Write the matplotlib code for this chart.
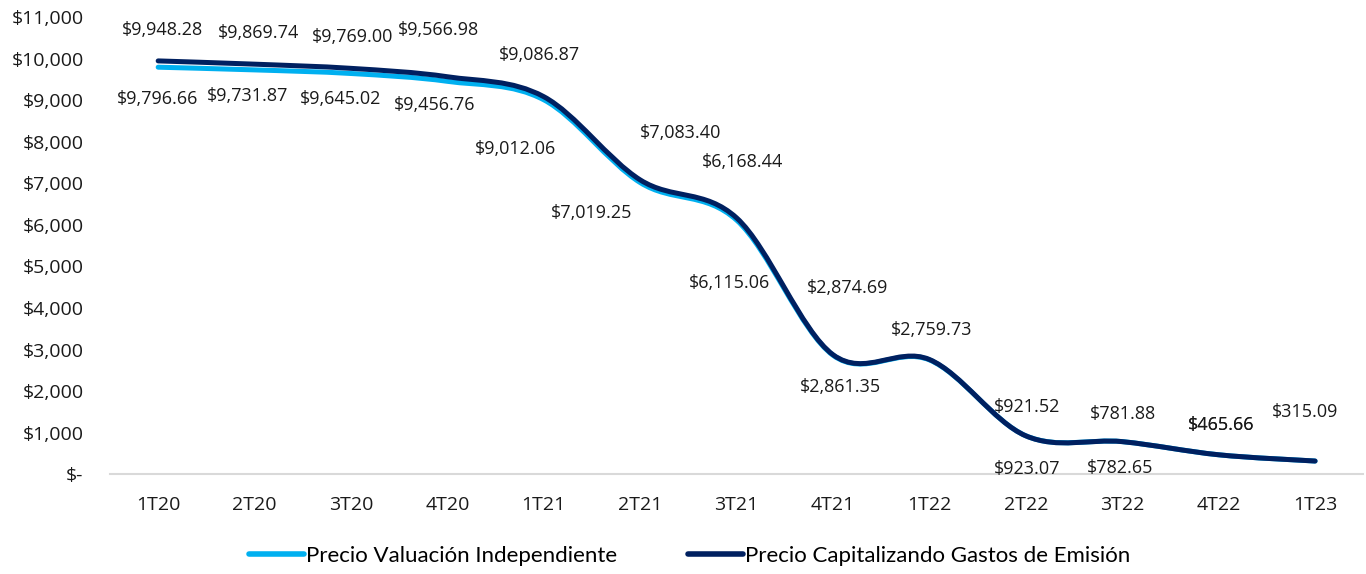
import matplotlib

matplotlib.use("Agg")
import matplotlib.pyplot as plt
from matplotlib.lines import Line2D
from matplotlib.patches import PathPatch
from matplotlib.path import Path
from matplotlib.ticker import FuncFormatter
import numpy as np

quarters = ["1T20", "2T20", "3T20", "4T20", "1T21", "2T21", "3T21",
            "4T21", "1T22", "2T22", "3T22", "4T22", "1T23"]
precio_valuacion = [9796.66, 9731.87, 9645.02, 9456.76, 9012.06, 7019.25, 6115.06,
                    2861.35, 2750.00, 923.07, 782.65, 465.66, 315.09]
precio_capitalizando = [9948.28, 9869.74, 9769.00, 9566.98, 9086.87, 7083.40, 6168.44,
                        2874.69, 2759.73, 921.52, 781.88, 465.66, 315.09]
# which points carry a data label (the light series' 1T22 and 1T23 labels are hidden)
label_valuacion = [True] * 8 + [False, True, True, True, False]
label_capitalizando = [True] * 13

# label offsets in pixels (dx, dy), as placed by hand in the original
off_valuacion = [(-1, -32), (-7, -26), (-10, -25), (-13, -24), (-28, -49), (-49, -30),
                 (-7, -63), (7, -32), (0, 0), (1, -33), (-2, -26), (2, 30), (0, 0)]
off_capitalizando = [(4, 31), (4, 31), (2, 31), (-9, 47), (-4, 42), (40, 47), (6, 56),
                     (15, 67), (2, 29), (1, 29), (1, 28), (2, 30), (-10, 49)]

LIGHT = "#00b0f0"
DARK = "#002060"
FONT = ["Open Sans", "DejaVu Sans"]


def smooth_path(xs, ys):
    # Excel-style smoothed line: Catmull-Rom segments as cubic Beziers
    pts = np.column_stack([xs, ys]).astype(float)
    ext = np.vstack([pts[0], pts, pts[-1]])
    verts = [pts[0]]
    codes = [Path.MOVETO]
    for i in range(len(pts) - 1):
        p0, p1, p2, p3 = ext[i], ext[i + 1], ext[i + 2], ext[i + 3]
        verts += [p1 + (p2 - p0) / 6, p2 - (p3 - p1) / 6, p2]
        codes += [Path.CURVE4] * 3
    return Path(verts, codes)


def money(v, _pos=None):
    if v == 0:
        return "$-"
    return f"${v:,.0f}"


fig = plt.figure(figsize=(13.66, 5.74), dpi=100)
ax = fig.add_axes([0.0805, 0.174, 0.9175, 0.796])

x = np.arange(len(quarters))
for ys, color, lw in [(precio_valuacion, LIGHT, 3.6), (precio_capitalizando, DARK, 3.6)]:
    ax.add_patch(PathPatch(smooth_path(x, ys), fill=False, edgecolor=color, lw=lw,
                           capstyle="round", joinstyle="round"))

for ys, flags, offs in [(precio_valuacion, label_valuacion, off_valuacion),
                        (precio_capitalizando, label_capitalizando, off_capitalizando)]:
    for xi, v, show, (dx, dy) in zip(x, ys, flags, offs):
        if not show:
            continue
        ax.annotate(f"${v:,.2f}", (xi, v), xytext=(dx, dy), textcoords="offset pixels",
                    ha="center", va="center", fontsize=13, family=FONT, color="#1a1a1a")

ax.set_xlim(-0.5, len(quarters) - 0.5)
ax.set_ylim(0, 11000)
ax.set_yticks(np.arange(0, 11001, 1000))
ax.yaxis.set_major_formatter(FuncFormatter(money))
ax.set_xticks(x)
ax.set_xticklabels(quarters)
ax.tick_params(axis="both", length=0, labelsize=14, colors="#1a1a1a")
ax.tick_params(axis="y", pad=19)
ax.tick_params(axis="x", pad=16)
for lab in ax.get_xticklabels() + ax.get_yticklabels():
    lab.set_family(FONT)

for side in ["top", "right", "left"]:
    ax.spines[side].set_visible(False)
ax.spines["bottom"].set_color("#d9d9d9")
ax.spines["bottom"].set_linewidth(1.5)

handles = [
    Line2D([], [], color=LIGHT, lw=4, solid_capstyle="round"),
    Line2D([], [], color=DARK, lw=4, solid_capstyle="round"),
]
fig.legend(handles, ["Precio Valuación Independiente", "Precio Capitalizando Gastos de Emisión"],
           loc="center", bbox_to_anchor=(0.505, 0.031), ncol=2, frameon=False,
           prop={"family": ["Lato", "DejaVu Sans"], "size": 16},
           handlelength=2.45, handletextpad=0.1, columnspacing=3.2)

fig.savefig("out.png", dpi=100)
